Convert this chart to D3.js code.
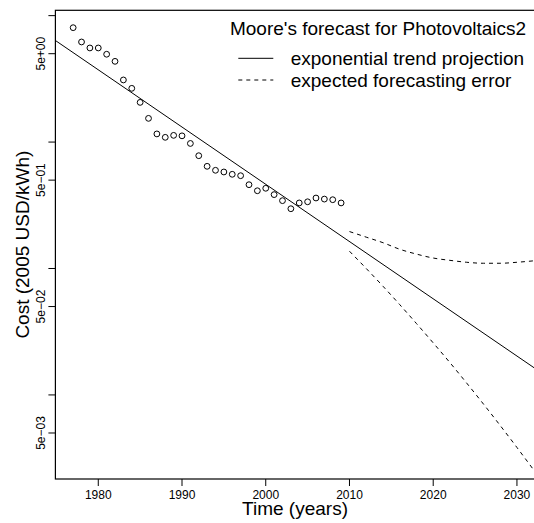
<!DOCTYPE html>
<html>
<head>
<meta charset="utf-8">
<script src="https://cdn.jsdelivr.net/npm/d3@7"></script>
<style>
body { margin: 0; background: #fff; }
text { font-family: "Liberation Sans", Arial, Helvetica, sans-serif; fill: #000; }
</style>
</head>
<body>
<script>
// observed cost per year
var years = [1977, 1978, 1979, 1980, 1981, 1982, 1983, 1984, 1985, 1986, 1987, 1988, 1989,
  1990, 1991, 1992, 1993, 1994, 1995, 1996, 1997, 1998, 1999, 2000, 2001, 2002, 2003,
  2004, 2005, 2006, 2007, 2008, 2009];
var cost = [8.03, 6.19, 5.55, 5.55, 4.95, 4.35, 3.10, 2.66, 2.06, 1.54, 1.16, 1.09, 1.13,
  1.12, 0.975, 0.78, 0.643, 0.598, 0.580, 0.556, 0.542, 0.460, 0.412, 0.431, 0.384, 0.344, 0.297,
  0.330, 0.337, 0.361, 0.354, 0.350, 0.330];

// exponential trend (straight on log axis)
var trendYears = [1974, 2033];
var trendCost = [6.97, 0.01485];

// forecast error band
var errYears = [2010, 2012, 2014, 2016, 2018, 2020, 2022, 2024, 2026, 2028, 2030, 2032];
var errUpper = [0.196, 0.177, 0.160, 0.142, 0.130, 0.121, 0.116, 0.112, 0.110, 0.110, 0.112, 0.115];
var errLower = [0.137, 0.100, 0.0724, 0.0518, 0.0367, 0.0258, 0.0180, 0.0124, 0.00847, 0.00573, 0.00384, 0.00255];

var xTicks = [1980, 1990, 2000, 2010, 2020, 2030];
var yTicks = [10, 5, 1, 0.5, 0.1, 0.05, 0.01, 0.005];
var yLabels = {5: "5e+00", 0.5: "5e\u221201", 0.05: "5e\u221202", 0.005: "5e\u221203"};

var legendTitle = "Moore's forecast for Photovoltaics2";
var legendItems = ["exponential trend projection", "expected forecasting error"];

var width = 534, height = 523;
var pLeft = 55.4, pRight = 534.7, pTop = 10.3, pBottom = 479;

var svg = d3.select("body").append("svg")
  .attr("width", width)
  .attr("height", height)
  .style("display", "block");

var x = d3.scaleLinear().domain([1974.88, 2032.12]).range([pLeft, pRight]);
var y = d3.scaleLog().domain([11.02, 0.002163]).range([pTop, pBottom]);

svg.append("defs").append("clipPath")
  .attr("id", "plotclip")
  .append("rect")
  .attr("x", pLeft).attr("y", pTop)
  .attr("width", pRight - pLeft).attr("height", pBottom - pTop);

var plot = svg.append("g").attr("clip-path", "url(#plotclip)");

var line = d3.line()
  .x(function(d) { return x(d[0]); })
  .y(function(d) { return y(d[1]); });

plot.append("path")
  .attr("d", line(d3.zip(trendYears, trendCost)))
  .attr("fill", "none")
  .attr("stroke", "#000")
  .attr("stroke-width", 1);

var curved = d3.line()
  .x(function(d) { return x(d[0]); })
  .y(function(d) { return y(d[1]); })
  .curve(d3.curveMonotoneX);

[errUpper, errLower].forEach(function(vals) {
  plot.append("path")
    .attr("d", curved(d3.zip(errYears, vals)))
    .attr("fill", "none")
    .attr("stroke", "#000")
    .attr("stroke-width", 1)
    .attr("stroke-dasharray", "4,4");
});

plot.selectAll("circle")
  .data(d3.zip(years, cost))
  .enter().append("circle")
  .attr("cx", function(d) { return x(d[0]); })
  .attr("cy", function(d) { return y(d[1]); })
  .attr("r", 2.9)
  .attr("fill", "none")
  .attr("stroke", "#000")
  .attr("stroke-width", 1);

// box (right side falls just off the page)
svg.append("rect")
  .attr("x", pLeft).attr("y", pTop)
  .attr("width", pRight - pLeft).attr("height", pBottom - pTop)
  .attr("fill", "none")
  .attr("stroke", "#000")
  .attr("stroke-width", 1.2);

// x axis
var xAxis = svg.append("g");
xAxis.selectAll("line")
  .data(xTicks)
  .enter().append("line")
  .attr("x1", function(d) { return x(d); })
  .attr("x2", function(d) { return x(d); })
  .attr("y1", pBottom).attr("y2", pBottom + 7)
  .attr("stroke", "#000");
xAxis.selectAll("text")
  .data(xTicks)
  .enter().append("text")
  .attr("x", function(d) { return x(d); })
  .attr("y", 499)
  .attr("text-anchor", "middle")
  .style("font-size", "12px")
  .text(function(d) { return d; });

// y axis
var yAxis = svg.append("g");
yAxis.selectAll("line")
  .data(yTicks)
  .enter().append("line")
  .attr("x1", pLeft - 7).attr("x2", pLeft)
  .attr("y1", function(d) { return y(d); })
  .attr("y2", function(d) { return y(d); })
  .attr("stroke", "#000");
yAxis.selectAll("text")
  .data(yTicks.filter(function(d) { return yLabels[d]; }))
  .enter().append("text")
  .attr("transform", function(d) { return "translate(44.5," + y(d) + ") rotate(-90)"; })
  .attr("text-anchor", "middle")
  .style("font-size", "12px")
  .text(function(d) { return yLabels[d]; });

// axis titles
svg.append("text")
  .attr("x", (pLeft + pRight) / 2)
  .attr("y", 514.5)
  .attr("text-anchor", "middle")
  .style("font-size", "19px")
  .text("Time (years)");

svg.append("text")
  .attr("transform", "translate(28.5," + (pTop + pBottom) / 2 + ") rotate(-90)")
  .attr("text-anchor", "middle")
  .style("font-size", "19px")
  .text("Cost (2005 USD/kWh)");

// legend
var legend = svg.append("g");
legend.append("text")
  .attr("x", 378)
  .attr("y", 35)
  .attr("text-anchor", "middle")
  .style("font-size", "19px")
  .text(legendTitle);

var rowY = [58.3, 80];
legendItems.forEach(function(label, i) {
  legend.append("line")
    .attr("x1", 238.3).attr("x2", 273.3)
    .attr("y1", rowY[i]).attr("y2", rowY[i])
    .attr("stroke", "#000")
    .attr("stroke-dasharray", i == 1 ? "4,4" : null);
  legend.append("text")
    .attr("x", 290.7)
    .attr("y", rowY[i] + 7)
    .style("font-size", "19px")
    .text(label);
});
</script>
</body>
</html>
